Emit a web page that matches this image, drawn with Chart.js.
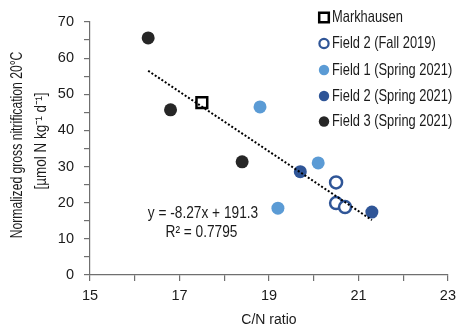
<!DOCTYPE html>
<html>
<head>
<meta charset="utf-8">
<script src="https://cdn.jsdelivr.net/npm/chart.js@4/dist/chart.umd.min.js"></script>
<style>
  html, body { margin: 0; padding: 0; background: #fff; }
  #wrap { position: relative; width: 462px; height: 330px; }
</style>
</head>
<body>
<div id="wrap"><canvas id="c" width="462" height="330"></canvas></div>
<script>
// ---- Data ----
const seriesNames = ['Markhausen', 'Field 2 (Fall 2019)', 'Field 1 (Spring 2021)', 'Field 2 (Spring 2021)', 'Field 3 (Spring 2021)'];
const markhausenX = [17.5];
const markhausenY = [47.7];
const field2FallX = [20.5, 20.5, 20.7];
const field2FallY = [25.6, 19.9, 18.8];
const field1SpringX = [18.8, 19.2, 20.1];
const field1SpringY = [46.5, 18.5, 31.0];
const field2SpringX = [19.7, 21.3];
const field2SpringY = [28.6, 17.4];
const field3SpringX = [16.3, 16.8, 18.4];
const field3SpringY = [65.6, 45.7, 31.3];
const trendX = [16.3, 21.3];
const trendY = [56.5, 15.2];
const equationLines = ['y = -8.27x + 191.3', 'R\u00B2 = 0.7795'];
const yTitle = ['Normalized gross nitrification 20\u00B0C', '[\u00B5mol N kg\u207B\u00B9 d\u207B\u00B9]'];
const xTitle = 'C/N ratio';
const xMajorTicks = [15, 17, 19, 21, 23];
const yMajorTicks = [0, 10, 20, 30, 40, 50, 60, 70];

const FONT = "'Liberation Sans', Arial, sans-serif";
const TXT = '#1a1a1a';
const AXIS = '#6f6f6f';
const C_BLACK = '#262626';
const C_LIGHT = '#5B9BD5';
const C_DARK = '#2F5597';

const pts = (xs, ys) => xs.map((x, i) => ({ x: x, y: ys[i] }));

const styles = [
  { pointStyle: 'rect', radius: 7.6, bg: '#ffffff', border: '#000000', bw: 2.5 },
  { pointStyle: 'circle', radius: 6, bg: '#ffffff', border: C_DARK, bw: 2.5 },
  { pointStyle: 'circle', radius: 6.5, bg: C_LIGHT, border: C_LIGHT, bw: 0 },
  { pointStyle: 'circle', radius: 6.5, bg: C_DARK, border: C_DARK, bw: 0 },
  { pointStyle: 'circle', radius: 6.5, bg: C_BLACK, border: C_BLACK, bw: 0 }
];
const seriesData = [
  pts(markhausenX, markhausenY),
  pts(field2FallX, field2FallY),
  pts(field1SpringX, field1SpringY),
  pts(field2SpringX, field2SpringY),
  pts(field3SpringX, field3SpringY)
];

const datasets = seriesNames.map((name, i) => ({
  type: 'scatter',
  label: name,
  data: seriesData[i],
  pointStyle: styles[i].pointStyle,
  pointRadius: styles[i].radius,
  pointHoverRadius: styles[i].radius,
  backgroundColor: styles[i].bg,
  borderColor: styles[i].border,
  borderWidth: styles[i].bw,
  order: 1
}));
datasets.push({
  type: 'line',
  label: 'trend',
  data: pts(trendX, trendY),
  borderColor: '#000',
  borderWidth: 2,
  borderDash: [2, 2],
  pointRadius: 0,
  fill: false,
  tension: 0,
  order: -1
});

// draws real text, horizontally squeezed to mimic the narrow typeface of the reference
function narrowText(ctx, text, x, y, align, size, squeeze, rotate) {
  ctx.save();
  ctx.translate(x, y);
  if (rotate) ctx.rotate(-Math.PI / 2);
  ctx.scale(squeeze, 1);
  ctx.font = size + 'px ' + FONT;
  ctx.fillStyle = TXT;
  ctx.textAlign = align;
  ctx.textBaseline = 'middle';
  ctx.fillText(text, 0, 0);
  ctx.restore();
}

const overlay = {
  id: 'overlay',
  afterDraw(chart) {
    const ctx = chart.ctx;
    ctx.save();
    // y axis title (two lines)
    narrowText(ctx, yTitle[0], 18, 145, 'center', 16, 0.76, true);
    narrowText(ctx, yTitle[1], 42, 141, 'center', 16, 0.84, true);
    // equation
    narrowText(ctx, equationLines[0], 203, 213, 'center', 16.5, 0.83, false);
    narrowText(ctx, equationLines[1], 201.5, 232.5, 'center', 16.5, 0.83, false);
    // legend
    const rowsY = [17.5, 43.5, 70, 96, 121.5];
    const mx = 324, tx = 332;
    seriesNames.forEach((name, i) => {
      const y = rowsY[i];
      const s = styles[i];
      ctx.beginPath();
      if (i === 0) {
        ctx.lineWidth = 2.5;
        ctx.strokeStyle = '#000';
        ctx.fillStyle = '#fff';
        ctx.rect(mx - 4.8, y - 4.8, 9.6, 9.6);
        ctx.fill();
        ctx.stroke();
      } else if (i === 1) {
        ctx.lineWidth = 2.2;
        ctx.strokeStyle = C_DARK;
        ctx.fillStyle = '#fff';
        ctx.arc(mx, y, 4.6, 0, Math.PI * 2);
        ctx.fill();
        ctx.stroke();
      } else {
        ctx.fillStyle = s.bg;
        ctx.arc(mx, y, 5.2, 0, Math.PI * 2);
        ctx.fill();
      }
      narrowText(ctx, name, tx, y, 'left', 16.5, 0.78, false);
    });
    ctx.restore();
  }
};

new Chart(document.getElementById('c'), {
  data: { datasets: datasets },
  options: {
    responsive: false,
    animation: false,
    devicePixelRatio: 1,
    layout: { padding: { left: 0, right: 8, top: 22, bottom: 0 } },
    plugins: { legend: { display: false }, tooltip: { enabled: false } },
    scales: {
      x: {
        type: 'linear',
        min: 15, max: 23,
        afterFit(s) { s.height = 55; },
        afterBuildTicks(s) { s.ticks = []; for (let v = 15; v <= 23; v++) s.ticks.push({ value: v }); },
        ticks: {
          stepSize: 1,
          autoSkip: false,
          maxRotation: 0,
          padding: 6,
          color: TXT,
          font: { family: FONT, size: 14.5 },
          callback: (v) => xMajorTicks.includes(v) ? String(v) : ''
        },
        grid: { drawOnChartArea: false, drawTicks: true, tickLength: 6, color: AXIS, lineWidth: 1.2 },
        border: { display: true, color: AXIS, width: 1.2 },
        title: { display: true, text: xTitle, color: TXT, font: { family: FONT, size: 14 }, padding: { top: 0, bottom: 1 } }
      },
      y: {
        type: 'linear',
        min: 0, max: 70,
        afterFit(s) { s.width = 90; },
        afterBuildTicks(s) { s.ticks = []; for (let v = 0; v <= 70; v += 5) s.ticks.push({ value: v }); },
        ticks: {
          stepSize: 5,
          autoSkip: false,
          padding: 10,
          color: TXT,
          font: { family: FONT, size: 14.5 },
          callback: (v) => yMajorTicks.includes(v) ? String(v) : ''
        },
        grid: { drawOnChartArea: false, drawTicks: true, tickLength: 6, color: AXIS, lineWidth: 1.2 },
        border: { display: true, color: AXIS, width: 1.2 },
        title: { display: false }
      }
    }
  },
  plugins: [overlay]
});
</script>
</body>
</html>
